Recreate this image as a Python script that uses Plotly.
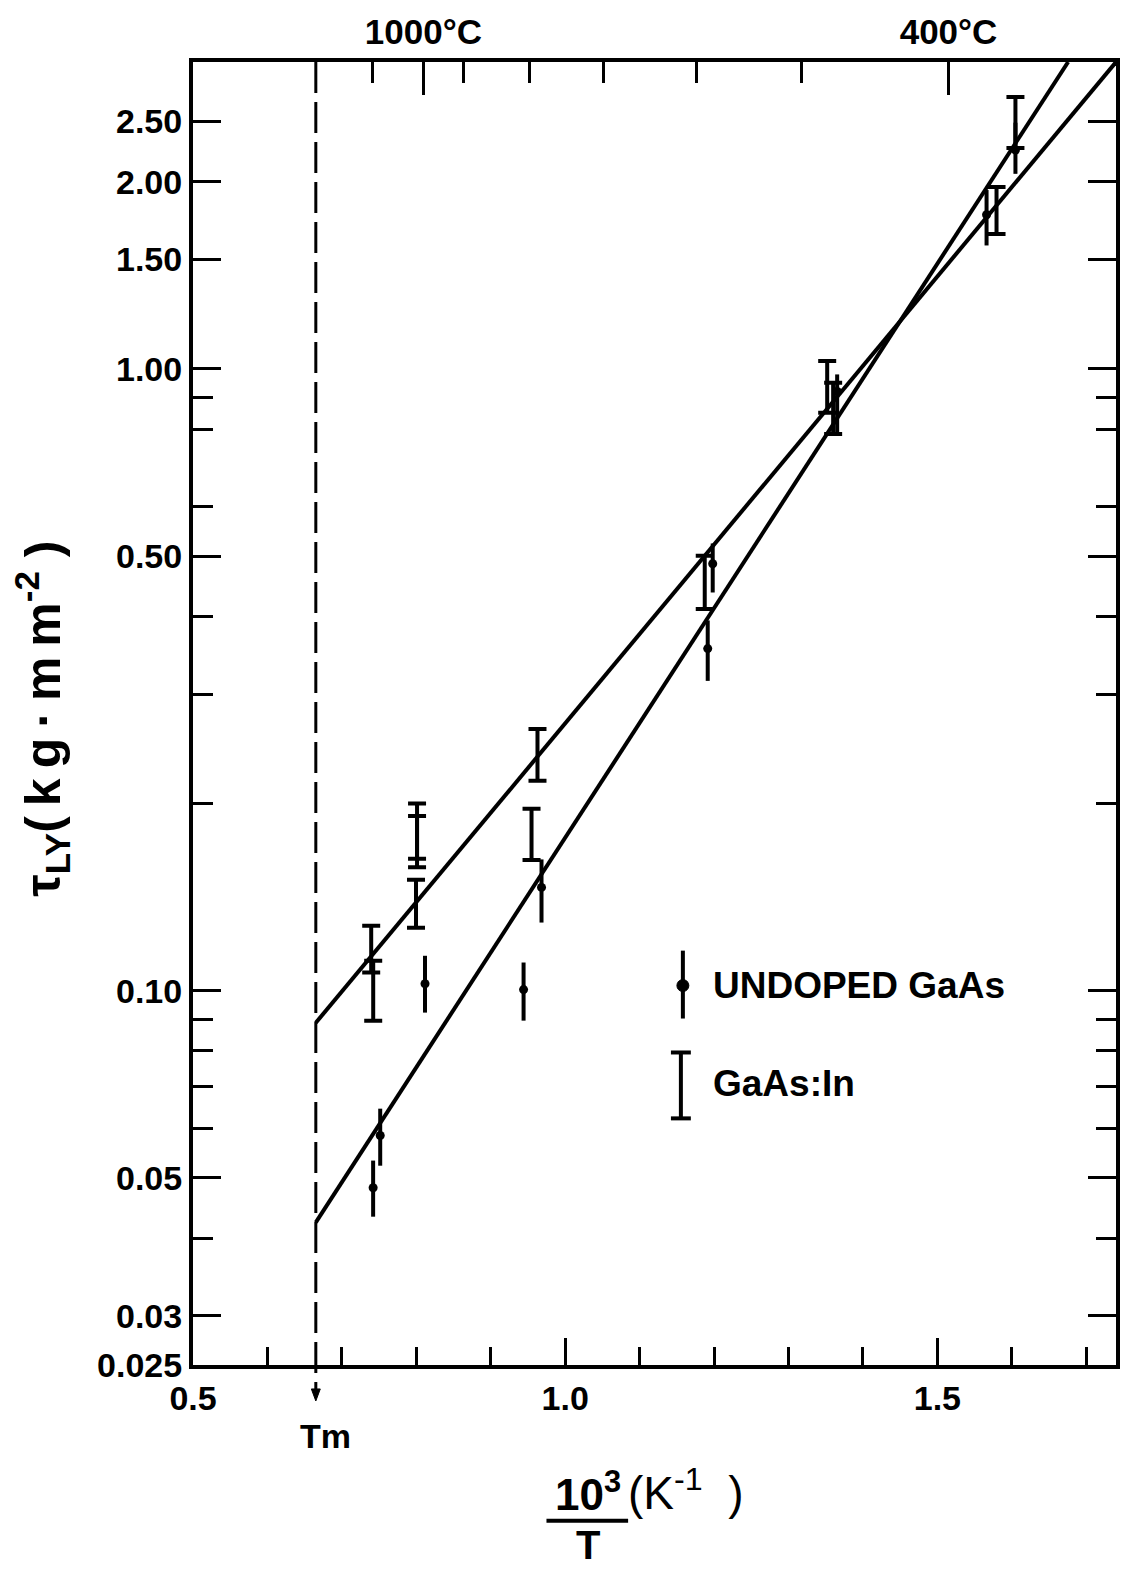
import math
import plotly.graph_objects as go

# ---------------- data ----------------
# Undoped GaAs (dot + vertical error bar)
undoped_x = [0.742, 0.7515, 0.8117, 0.9441, 0.9682, 1.1915, 1.1982, 1.3654, 1.5661, 1.6049]
undoped_y = [0.0482, 0.0585, 0.1026, 0.1004, 0.1466, 0.355, 0.486, 0.92, 1.77, 2.25]
undoped_hi = [0.0533, 0.0646, 0.1138, 0.111, 0.1626, 0.394, 0.524, 0.98, 1.94, 2.49]
undoped_lo = [0.0433, 0.0523, 0.0922, 0.0895, 0.1287, 0.315, 0.437, 0.79, 1.58, 2.06]

# GaAs:In (capped error bars)
in_x = [0.7394, 0.7421, 0.7996, 0.8010, 0.8010, 0.9548, 0.9628, 1.1875, 1.3520, 1.3600, 1.5795, 1.6049]
in_y = [0.116, 0.100, 0.138, 0.181, 0.174, 0.178, 0.2395, 0.454, 0.93, 0.88, 1.80, 2.49]
in_hi = [0.1272, 0.1117, 0.1508, 0.200, 0.191, 0.1961, 0.2636, 0.5005, 1.03, 0.95, 1.962, 2.737]
in_lo = [0.107, 0.0895, 0.1262, 0.163, 0.158, 0.1623, 0.2177, 0.411, 0.85, 0.786, 1.649, 2.266]

# fitted lines
fit_in_x = [0.665, 1.74]
fit_in_y = [0.0888, 3.117]
fit_und_x = [0.665, 1.6757]
fit_und_y = [0.0424, 3.117]

# melting point
tm_x = 0.665

# axes
x_range = [0.5, 1.74]
y_range = [0.025, 3.117]
x_major = [0.5, 1.0, 1.5]
x_major_text = ["0.5", "1.0", "1.5"]
x_minor = [0.6, 0.7, 0.8, 0.9, 1.1, 1.2, 1.3, 1.4, 1.6, 1.7]
y_major = [0.025, 0.03, 0.05, 0.1, 0.5, 1.0, 1.5, 2.0, 2.5]
y_major_text = ["0.025", "0.03", "0.05", "0.10", "0.50", "1.00", "1.50", "2.00", "2.50"]
y_minor = [0.04, 0.06, 0.07, 0.08, 0.09, 0.2, 0.3, 0.4, 0.6, 0.8, 0.9]
top_major = [0.8095, 1.515]
top_major_text = ["1000°C", "400°C"]
top_minor = [0.7405, 0.864, 0.952, 1.051, 1.176, 1.318]

FONT = "Liberation Sans"
BLACK = "black"

fig = go.Figure()

fig.add_trace(go.Scatter(x=fit_in_x, y=fit_in_y, mode="lines",
                         line=dict(color=BLACK, width=4), showlegend=False, hoverinfo="skip"))
fig.add_trace(go.Scatter(x=fit_und_x, y=fit_und_y, mode="lines",
                         line=dict(color=BLACK, width=4), showlegend=False, hoverinfo="skip"))

fig.add_trace(go.Scatter(
    x=undoped_x, y=undoped_y, mode="markers",
    marker=dict(color=BLACK, size=9),
    error_y=dict(type="data", symmetric=False,
                 array=[h - v for h, v in zip(undoped_hi, undoped_y)],
                 arrayminus=[v - l for v, l in zip(undoped_y, undoped_lo)],
                 color=BLACK, thickness=4, width=0),
    showlegend=False))

fig.add_trace(go.Scatter(
    x=in_x, y=in_y, mode="markers",
    marker=dict(color=BLACK, size=1, opacity=0),
    error_y=dict(type="data", symmetric=False,
                 array=[h - v for h, v in zip(in_hi, in_y)],
                 arrayminus=[v - l for v, l in zip(in_y, in_lo)],
                 color=BLACK, thickness=4, width=9),
    showlegend=False))

# dummy trace for top axis
fig.add_trace(go.Scatter(x=top_major, y=[1, 1], xaxis="x2", mode="markers",
                         marker=dict(opacity=0), showlegend=False, hoverinfo="skip"))

tickfont = dict(family=FONT, size=34, color=BLACK, weight="bold")

fig.update_layout(
    width=1132, height=1571,
    margin=dict(l=193, r=12, t=60, b=206),
    paper_bgcolor="white", plot_bgcolor="white",
    showlegend=False,
    xaxis=dict(range=x_range, showgrid=False, zeroline=False,
               showline=True, linecolor=BLACK, linewidth=4,
               ticks="inside", tickvals=x_major, ticktext=x_major_text,
               ticklen=27, tickwidth=3, tickcolor=BLACK, tickfont=tickfont,
               minor=dict(tickvals=x_minor, ticks="inside", ticklen=18, tickwidth=3, tickcolor=BLACK, showgrid=False)),
    xaxis2=dict(range=x_range, overlaying="x", side="top", showgrid=False, zeroline=False,
                showline=True, linecolor=BLACK, linewidth=4,
                ticks="inside", tickvals=top_major, ticktext=top_major_text,
                ticklen=33, tickwidth=3, tickcolor=BLACK,
                tickfont=dict(family=FONT, size=35, color=BLACK, weight="bold"),
                minor=dict(tickvals=top_minor, ticks="inside", ticklen=21, tickwidth=3, tickcolor=BLACK, showgrid=False)),
    yaxis=dict(type="log", range=[math.log10(y_range[0]), math.log10(y_range[1])],
               showgrid=False, zeroline=False,
               showline=True, linecolor=BLACK, linewidth=4, mirror="ticks",
               ticks="inside", tickvals=y_major, ticktext=y_major_text,
               ticklen=28, tickwidth=3, tickcolor=BLACK, tickfont=tickfont,
               minor=dict(tickvals=y_minor, ticks="inside", ticklen=20, tickwidth=3, tickcolor=BLACK, showgrid=False)),
)

W, H = 927.0, 1305.0


def py(px):
    """paper y from a pixel row"""
    return (1365 - px) / H


def pxx(px):
    """paper x from a pixel column"""
    return (px - 193) / W


# Tm dashed line and arrow
fig.add_shape(type="line", xref="x", yref="paper", x0=tm_x, x1=tm_x, y0=1, y1=py(1393),
              line=dict(color=BLACK, width=3, dash="31px,9px"))
fig.add_shape(type="path", xref="x", yref="paper",
              path=f"M {tm_x-0.006},{py(1389)} L {tm_x+0.006},{py(1389)} L {tm_x},{py(1401)} Z",
              fillcolor=BLACK, line=dict(color=BLACK, width=1))
fig.add_annotation(x=pxx(326), xref="paper", y=py(1436), yref="paper", text="Tm", showarrow=False,
                   xanchor="center", yanchor="middle",
                   font=dict(family=FONT, size=34, color=BLACK, weight="bold"))

# y title (thin spaces widen the letter spacing like the original lettering)
ts = "\u2009"
fig.add_annotation(x=pxx(42), xref="paper", y=py(718), yref="paper",
                   text=f"τ<sub>LY</sub>({ts}k{ts}g{ts}·{ts}m{ts}m<sup>-2</sup> )", textangle=-90, showarrow=False,
                   xanchor="center", yanchor="middle",
                   font=dict(family=FONT, size=50, color=BLACK, weight="bold"))

# x title: fraction 10^3 / T (K^-1)
fig.add_annotation(x=pxx(590), xref="paper", y=py(1492), yref="paper", text="10<sup>3</sup>",
                   xanchor="center", yanchor="middle",
                   showarrow=False, font=dict(family=FONT, size=44, color=BLACK, weight="bold"))
fig.add_shape(type="line", xref="paper", yref="paper", x0=pxx(548), x1=pxx(630), y0=py(1521), y1=py(1521),
              line=dict(color=BLACK, width=4))
fig.add_annotation(x=pxx(590), xref="paper", y=py(1545), yref="paper", text="T",
                   xanchor="center", yanchor="middle",
                   showarrow=False, font=dict(family=FONT, size=40, color=BLACK, weight="bold"))
fig.add_annotation(x=pxx(628), xref="paper", y=py(1490), yref="paper", text="(K<sup>-1</sup>  )",
                   xanchor="left", yanchor="middle", showarrow=False,
                   font=dict(family=FONT, size=46, color=BLACK))

# legend glyphs
lx1 = pxx(685)
fig.add_shape(type="line", xref="paper", yref="paper", x0=lx1, x1=lx1,
              y0=py(950), y1=py(1018), line=dict(color=BLACK, width=4))
fig.add_shape(type="circle", xref="paper", yref="paper",
              x0=lx1 - 6 / W, x1=lx1 + 6 / W, y0=py(985) - 6 / H, y1=py(985) + 6 / H,
              fillcolor=BLACK, line=dict(color=BLACK, width=1))
lx2 = pxx(683)
ya, yb = py(1052), py(1118)
fig.add_shape(type="line", xref="paper", yref="paper", x0=lx2, x1=lx2, y0=ya, y1=yb,
              line=dict(color=BLACK, width=4))
for yy in (ya, yb):
    fig.add_shape(type="line", xref="paper", yref="paper", x0=lx2 - 10 / W, x1=lx2 + 10 / W, y0=yy, y1=yy,
                  line=dict(color=BLACK, width=4))
fig.add_annotation(x=pxx(713), xref="paper", y=py(985), yref="paper",
                   text="UNDOPED GaAs", xanchor="left", yanchor="middle", showarrow=False,
                   font=dict(family=FONT, size=37, color=BLACK, weight="bold"))
fig.add_annotation(x=pxx(713), xref="paper", y=py(1083), yref="paper",
                   text="GaAs:In", xanchor="left", yanchor="middle", showarrow=False,
                   font=dict(family=FONT, size=37, color=BLACK, weight="bold"))

fig.write_html("out.html")
